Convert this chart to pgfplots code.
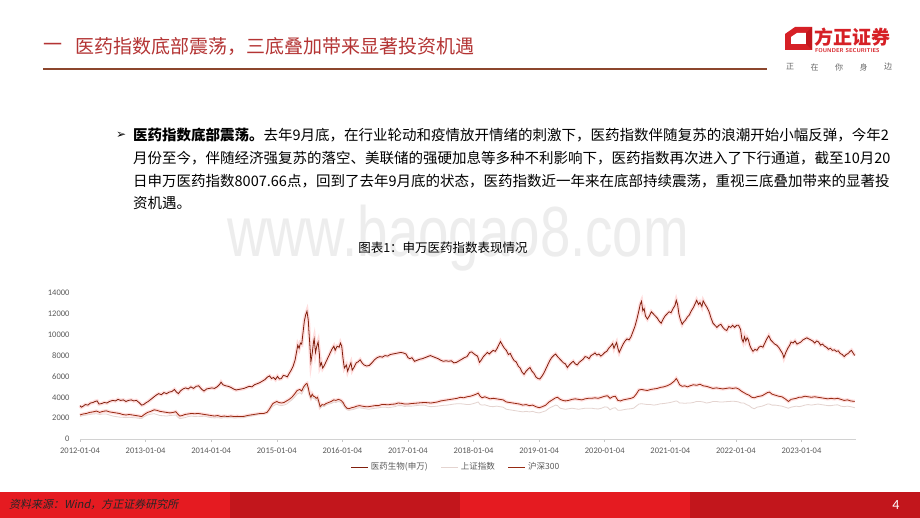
\documentclass[border=0pt]{standalone}
\usepackage{fontspec}
\usepackage{pgfplots}
\usepackage{pgfplotstable}
\pgfplotsset{compat=1.18}
\setmainfont{Carlito}
\newfontfamily\cjk{Noto Sans CJK SC}
\newfontfamily\cjksl[FakeSlant=0.2]{Noto Sans CJK SC}
\newfontfamily\dejavu{DejaVu Sans}
\newfontfamily\wmfont[FakeStretch=0.77]{Liberation Sans}

\definecolor{pharma}{RGB}{128,30,12}
\definecolor{csi}{RGB}{150,42,18}
\definecolor{sse}{RGB}{228,212,208}
\definecolor{titlered}{RGB}{180,52,52}
\definecolor{rulebrown}{RGB}{140,70,45}
\definecolor{barA}{RGB}{229,27,33}
\definecolor{barB}{RGB}{194,22,28}
\definecolor{logored}{RGB}{214,32,38}
\definecolor{ticktext}{RGB}{89,89,89}

% 医药生物(申万)
\pgfplotstableread{
t v
2012.00 3200
2012.02 3050
2012.05 3150
2012.08 3300
2012.12 3250
2012.16 3450
2012.20 3500
2012.23 3600
2012.26 3650
2012.29 3350
2012.33 3400
2012.37 3500
2012.41 3450
2012.45 3600
2012.50 3700
2012.54 3650
2012.58 3800
2012.62 3700
2012.66 3750
2012.70 3600
2012.74 3700
2012.78 3750
2012.82 3650
2012.86 3700
2012.90 3500
2012.94 3250
2012.97 3300
2013.00 3450
2013.04 3600
2013.08 3800
2013.12 4000
2013.16 4200
2013.20 4350
2013.24 4250
2013.28 4450
2013.32 4350
2013.36 4500
2013.40 4550
2013.44 4750
2013.47 4500
2013.50 4350
2013.53 4600
2013.57 4800
2013.61 4900
2013.65 4800
2013.69 5000
2013.73 4850
2013.77 5050
2013.81 5100
2013.85 4800
2013.89 4600
2013.93 4800
2013.97 4850
2014.01 4900
2014.05 4850
2014.09 5000
2014.13 5250
2014.15 5450
2014.18 5200
2014.22 5100
2014.26 5050
2014.30 4950
2014.34 4800
2014.38 4700
2014.42 4750
2014.46 4800
2014.50 4850
2014.54 4950
2014.58 5050
2014.62 5000
2014.66 5200
2014.70 5300
2014.74 5400
2014.78 5550
2014.82 5700
2014.86 5950
2014.89 6050
2014.92 5800
2014.95 5900
2014.98 5700
2015.01 6000
2015.04 5750
2015.07 5800
2015.10 6100
2015.13 6050
2015.16 5950
2015.19 6300
2015.22 6600
2015.25 7000
2015.28 7600
2015.30 8300
2015.32 9000
2015.34 8700
2015.36 9200
2015.38 9100
2015.40 10200
2015.42 11300
2015.44 11900
2015.46 12250
2015.48 11400
2015.49 10300
2015.50 9400
2015.52 7400
2015.54 8200
2015.56 9300
2015.57 9600
2015.59 8300
2015.61 8900
2015.63 9300
2015.65 8100
2015.66 7000
2015.68 7300
2015.70 6800
2015.72 7000
2015.75 7400
2015.78 7800
2015.81 8200
2015.84 8600
2015.87 8900
2015.89 8500
2015.92 8900
2015.95 8800
2015.97 9200
2015.99 8900
2016.01 7700
2016.03 6800
2016.06 7100
2016.08 6500
2016.11 7000
2016.13 7300
2016.15 6600
2016.18 6900
2016.21 7300
2016.24 7400
2016.27 7600
2016.30 7300
2016.33 7100
2016.37 7000
2016.41 7050
2016.45 7300
2016.49 7600
2016.53 7800
2016.57 7900
2016.61 7850
2016.65 8000
2016.69 7950
2016.73 8100
2016.77 8150
2016.81 8200
2016.85 8250
2016.89 8300
2016.93 8250
2016.97 8150
2017.00 7800
2017.03 7700
2017.06 7800
2017.10 7450
2017.14 7550
2017.18 7650
2017.22 7700
2017.26 7800
2017.30 7900
2017.34 8000
2017.38 7900
2017.42 7800
2017.46 7700
2017.50 7550
2017.54 7450
2017.58 7500
2017.62 7450
2017.66 7500
2017.70 7300
2017.74 7350
2017.78 7500
2017.82 7650
2017.86 7800
2017.90 7900
2017.94 8300
2017.97 8350
2018.00 8200
2018.03 8050
2018.06 7950
2018.09 7350
2018.12 7600
2018.15 7900
2018.18 8100
2018.21 8300
2018.24 8150
2018.27 8350
2018.30 8500
2018.33 8400
2018.36 8700
2018.39 9100
2018.41 9350
2018.44 9000
2018.47 8700
2018.50 8500
2018.53 8100
2018.56 8200
2018.59 7800
2018.62 7500
2018.65 7400
2018.68 7000
2018.71 6800
2018.74 6400
2018.77 6200
2018.80 6500
2018.83 6700
2018.86 6850
2018.89 6500
2018.92 6300
2018.95 5950
2018.98 5800
2019.01 5750
2019.04 6000
2019.07 6300
2019.10 6700
2019.13 7100
2019.16 7500
2019.19 7800
2019.22 8000
2019.25 8150
2019.28 7900
2019.31 7700
2019.34 7500
2019.37 7300
2019.40 7200
2019.43 6850
2019.46 7100
2019.49 7300
2019.52 7450
2019.55 7200
2019.58 7100
2019.61 7350
2019.64 7500
2019.67 7650
2019.70 7900
2019.73 7850
2019.76 7700
2019.79 8000
2019.82 8100
2019.85 8250
2019.88 8050
2019.91 8150
2019.94 7950
2019.97 8100
2020.00 8300
2020.03 8400
2020.06 8700
2020.09 8900
2020.12 9150
2020.14 8700
2020.16 9000
2020.18 9250
2020.20 8700
2020.22 8300
2020.25 8700
2020.28 9100
2020.31 9400
2020.34 9600
2020.37 9500
2020.40 9800
2020.43 10300
2020.46 10800
2020.49 11500
2020.52 12300
2020.54 12900
2020.56 13200
2020.58 12300
2020.60 12500
2020.62 11800
2020.65 11500
2020.68 11800
2020.71 12200
2020.74 12000
2020.77 11800
2020.80 11600
2020.83 11300
2020.86 11100
2020.89 11500
2020.92 11800
2020.95 12000
2020.98 12200
2021.01 12100
2021.04 12500
2021.07 12800
2021.09 13300
2021.11 12900
2021.13 12000
2021.15 11500
2021.18 11000
2021.20 11200
2021.23 11400
2021.26 11700
2021.29 11900
2021.32 12300
2021.35 12600
2021.38 13000
2021.40 13300
2021.43 12900
2021.45 13100
2021.48 12700
2021.50 13250
2021.53 12900
2021.56 12600
2021.59 12200
2021.62 11600
2021.65 11100
2021.68 10900
2021.71 10700
2021.74 10900
2021.77 11000
2021.80 10700
2021.83 10500
2021.86 10400
2021.89 10800
2021.92 10700
2021.95 10900
2021.98 10700
2022.01 10900
2022.04 10900
2022.07 10500
2022.09 9600
2022.11 9300
2022.13 9800
2022.15 9400
2022.17 9700
2022.19 9500
2022.21 9000
2022.23 8700
2022.26 8400
2022.29 8600
2022.32 8500
2022.35 8800
2022.38 8900
2022.41 8800
2022.44 9200
2022.47 9600
2022.50 9900
2022.53 9500
2022.56 9300
2022.59 9100
2022.62 9000
2022.65 8800
2022.68 8500
2022.71 8200
2022.73 7800
2022.76 8300
2022.79 8700
2022.82 9000
2022.84 9300
2022.87 9200
2022.90 9400
2022.93 9100
2022.96 9200
2022.99 9300
2023.02 9500
2023.05 9600
2023.08 9700
2023.11 9600
2023.14 9500
2023.17 9400
2023.20 9200
2023.23 9400
2023.26 9300
2023.29 9000
2023.32 9100
2023.35 8900
2023.38 8800
2023.41 8600
2023.44 8700
2023.47 8500
2023.50 8550
2023.53 8400
2023.56 8450
2023.59 8200
2023.62 8100
2023.65 7900
2023.68 8100
2023.71 8200
2023.74 8400
2023.76 8500
2023.79 8200
2023.81 8008
}\pharma

% 上证指数
\pgfplotstableread{
t v
2012.00 2170
2012.05 2250
2012.10 2300
2012.15 2350
2012.20 2400
2012.25 2420
2012.30 2350
2012.35 2400
2012.40 2400
2012.45 2300
2012.50 2200
2012.55 2150
2012.60 2100
2012.65 2080
2012.70 2050
2012.75 2080
2012.80 2050
2012.85 2030
2012.90 1980
2012.94 1960
2012.98 2150
2013.03 2300
2013.08 2380
2013.13 2430
2013.17 2350
2013.22 2250
2013.27 2230
2013.32 2200
2013.37 2250
2013.42 2280
2013.46 2300
2013.49 2100
2013.52 1950
2013.56 2000
2013.60 2050
2013.65 2150
2013.70 2200
2013.75 2150
2013.80 2180
2013.85 2150
2013.90 2200
2013.95 2100
2014.00 2050
2014.05 2020
2014.10 2050
2014.15 2000
2014.20 2050
2014.25 2030
2014.30 2050
2014.35 2020
2014.40 2030
2014.45 2040
2014.50 2050
2014.55 2150
2014.60 2200
2014.65 2250
2014.70 2350
2014.75 2380
2014.80 2450
2014.85 2550
2014.88 2750
2014.91 2950
2014.94 3150
2014.97 3250
2015.00 3350
2015.03 3250
2015.07 3200
2015.11 3250
2015.15 3350
2015.19 3550
2015.23 3750
2015.27 4000
2015.31 4300
2015.35 4450
2015.38 4300
2015.41 4700
2015.44 5000
2015.46 5150
2015.48 4700
2015.50 4100
2015.52 3800
2015.54 4000
2015.56 3900
2015.58 3850
2015.60 3700
2015.62 3750
2015.64 3400
2015.66 2950
2015.69 3150
2015.72 3100
2015.75 3250
2015.79 3350
2015.83 3400
2015.87 3550
2015.90 3500
2015.94 3600
2015.98 3500
2016.01 3300
2016.04 3000
2016.07 2800
2016.10 2750
2016.14 2800
2016.18 2850
2016.22 2950
2016.26 3000
2016.30 2950
2016.35 2900
2016.40 2850
2016.45 2900
2016.50 2950
2016.55 2980
2016.60 3050
2016.65 3050
2016.70 3000
2016.75 3050
2016.80 3100
2016.85 3200
2016.90 3200
2016.95 3120
2017.00 3150
2017.05 3150
2017.10 3180
2017.15 3220
2017.20 3250
2017.25 3250
2017.30 3150
2017.35 3100
2017.40 3120
2017.45 3150
2017.50 3200
2017.55 3230
2017.60 3250
2017.65 3300
2017.70 3350
2017.75 3380
2017.80 3380
2017.85 3350
2017.90 3300
2017.95 3320
2018.00 3400
2018.04 3480
2018.07 3550
2018.10 3300
2018.13 3250
2018.17 3280
2018.21 3200
2018.25 3120
2018.30 3100
2018.35 3150
2018.40 3100
2018.45 3050
2018.50 2850
2018.55 2800
2018.60 2750
2018.65 2700
2018.70 2650
2018.75 2600
2018.80 2650
2018.85 2600
2018.90 2650
2018.95 2550
2019.00 2500
2019.05 2600
2019.10 2700
2019.15 2950
2019.20 3100
2019.25 3250
2019.28 3200
2019.32 2950
2019.36 2900
2019.40 2850
2019.45 2900
2019.50 2950
2019.55 2900
2019.60 2850
2019.65 2900
2019.70 2950
2019.75 2950
2019.80 2950
2019.85 2900
2019.90 2880
2019.95 2950
2020.00 3080
2020.04 3050
2020.08 2800
2020.12 2950
2020.16 3000
2020.20 2750
2020.24 2750
2020.28 2800
2020.32 2850
2020.36 2880
2020.40 2900
2020.44 2950
2020.48 3150
2020.52 3350
2020.56 3380
2020.60 3350
2020.65 3300
2020.70 3300
2020.75 3250
2020.80 3300
2020.85 3380
2020.90 3400
2020.95 3450
2021.00 3500
2021.03 3550
2021.06 3600
2021.09 3650
2021.11 3600
2021.14 3450
2021.18 3450
2021.22 3420
2021.26 3450
2021.30 3450
2021.35 3500
2021.40 3600
2021.45 3600
2021.50 3550
2021.55 3450
2021.60 3500
2021.65 3600
2021.70 3600
2021.75 3550
2021.80 3550
2021.85 3580
2021.90 3600
2021.95 3620
2022.00 3600
2022.04 3550
2022.08 3450
2022.12 3450
2022.16 3300
2022.20 3200
2022.24 3000
2022.28 2900
2022.32 3050
2022.36 3100
2022.40 3150
2022.44 3250
2022.48 3350
2022.51 3350
2022.55 3250
2022.60 3250
2022.65 3200
2022.70 3150
2022.75 3050
2022.80 2950
2022.84 3050
2022.88 3100
2022.92 3150
2022.96 3100
2023.00 3150
2023.05 3250
2023.10 3300
2023.15 3250
2023.20 3300
2023.25 3350
2023.30 3300
2023.35 3250
2023.40 3200
2023.45 3200
2023.50 3250
2023.55 3280
2023.60 3150
2023.65 3100
2023.70 3150
2023.75 3100
2023.81 3000
}\sse

% 沪深300
\pgfplotstableread{
t v
2012.00 2310
2012.05 2400
2012.10 2450
2012.15 2550
2012.20 2600
2012.25 2680
2012.30 2550
2012.35 2650
2012.40 2700
2012.45 2600
2012.50 2550
2012.55 2500
2012.60 2450
2012.65 2350
2012.70 2300
2012.75 2350
2012.80 2300
2012.85 2250
2012.90 2200
2012.94 2150
2012.98 2350
2013.03 2550
2013.08 2650
2013.13 2800
2013.17 2750
2013.22 2650
2013.27 2600
2013.32 2550
2013.37 2500
2013.42 2550
2013.46 2620
2013.49 2400
2013.52 2200
2013.56 2250
2013.60 2350
2013.65 2400
2013.70 2450
2013.75 2420
2013.80 2450
2013.85 2400
2013.90 2350
2013.95 2300
2014.00 2250
2014.05 2200
2014.10 2250
2014.15 2150
2014.20 2200
2014.25 2150
2014.30 2200
2014.35 2150
2014.40 2170
2014.45 2150
2014.50 2170
2014.55 2250
2014.60 2300
2014.65 2350
2014.70 2400
2014.75 2450
2014.80 2450
2014.85 2550
2014.88 2800
2014.91 3100
2014.94 3400
2014.97 3500
2015.00 3600
2015.03 3500
2015.07 3450
2015.11 3500
2015.15 3650
2015.19 3800
2015.23 4000
2015.27 4300
2015.31 4650
2015.35 4750
2015.38 4600
2015.41 5000
2015.44 5250
2015.46 5330
2015.48 4900
2015.50 4300
2015.52 4000
2015.54 4300
2015.56 4100
2015.58 4050
2015.60 3900
2015.62 4000
2015.64 3600
2015.66 3100
2015.69 3300
2015.72 3250
2015.75 3400
2015.79 3500
2015.83 3600
2015.87 3750
2015.90 3700
2015.94 3800
2015.98 3700
2016.01 3500
2016.04 3150
2016.07 2950
2016.10 2900
2016.14 3000
2016.18 3050
2016.22 3150
2016.26 3200
2016.30 3150
2016.35 3100
2016.40 3100
2016.45 3150
2016.50 3200
2016.55 3200
2016.60 3300
2016.65 3300
2016.70 3280
2016.75 3330
2016.80 3350
2016.85 3450
2016.90 3420
2016.95 3350
2017.00 3350
2017.05 3400
2017.10 3420
2017.15 3450
2017.20 3480
2017.25 3500
2017.30 3480
2017.35 3450
2017.40 3500
2017.45 3550
2017.50 3650
2017.55 3700
2017.60 3750
2017.65 3800
2017.70 3850
2017.75 3900
2017.80 4000
2017.85 3950
2017.90 4050
2017.95 4100
2018.00 4200
2018.04 4300
2018.07 4400
2018.10 4100
2018.13 3950
2018.17 4050
2018.21 3950
2018.25 3850
2018.30 3900
2018.35 3850
2018.40 3800
2018.45 3750
2018.50 3550
2018.55 3500
2018.60 3450
2018.65 3400
2018.70 3350
2018.75 3250
2018.80 3300
2018.85 3200
2018.90 3250
2018.95 3100
2019.00 3000
2019.05 3100
2019.10 3250
2019.15 3550
2019.20 3750
2019.25 3950
2019.28 4000
2019.32 3800
2019.36 3700
2019.40 3650
2019.45 3700
2019.50 3800
2019.55 3850
2019.60 3800
2019.65 3750
2019.70 3850
2019.75 3900
2019.80 3900
2019.85 3950
2019.90 3900
2019.95 4000
2020.00 4100
2020.04 4150
2020.08 3900
2020.12 4050
2020.16 4100
2020.20 3700
2020.24 3650
2020.28 3750
2020.32 3800
2020.36 3850
2020.40 3900
2020.44 4000
2020.48 4300
2020.52 4700
2020.56 4750
2020.60 4700
2020.65 4650
2020.70 4750
2020.75 4800
2020.80 4850
2020.85 4950
2020.90 5000
2020.95 5100
2021.00 5250
2021.03 5400
2021.06 5550
2021.09 5800
2021.11 5600
2021.14 5200
2021.18 5050
2021.22 5100
2021.26 5000
2021.30 5100
2021.35 5200
2021.40 5150
2021.45 5250
2021.50 5100
2021.55 5050
2021.60 4950
2021.65 4850
2021.70 4900
2021.75 4850
2021.80 4800
2021.85 4850
2021.90 4900
2021.95 4850
2022.00 4900
2022.04 4800
2022.08 4600
2022.12 4450
2022.16 4300
2022.20 4200
2022.24 4000
2022.28 3950
2022.32 4050
2022.36 4100
2022.40 4150
2022.44 4300
2022.48 4450
2022.51 4500
2022.55 4300
2022.60 4200
2022.65 4100
2022.70 4050
2022.75 3850
2022.80 3600
2022.84 3800
2022.88 3850
2022.92 3900
2022.96 4000
2023.00 4000
2023.05 4100
2023.10 4050
2023.15 4000
2023.20 4050
2023.25 4000
2023.30 3950
2023.35 3900
2023.40 3850
2023.45 3900
2023.50 3850
2023.55 3900
2023.60 3800
2023.65 3700
2023.70 3750
2023.75 3650
2023.81 3600
}\csi

\begin{document}
\begin{tikzpicture}[x=1pt,y=1pt]
\path[use as bounding box] (0,0) rectangle (920,518);
\fill[white] (0,0) rectangle (920,518);

% header
\node[anchor=west,inner sep=0pt,text=titlered,font=\cjk\fontsize{19}{21}\selectfont] at (43,471) {一};
\node[anchor=west,inner sep=0pt,text=titlered,font=\cjk\fontsize{19}{21}\selectfont] at (75,471) {医药指数底部震荡，三底叠加带来显著投资机遇};
\draw[rulebrown,line width=2.5pt] (43,449) -- (767,449);

% logo
\fill[logored] (785,484) -- (795,491) -- (812,491) -- (812,468) -- (785,468) -- cycle;
\fill[white] (791,481) -- (797,485) -- (806,485) -- (806,474) -- (791,474) -- cycle;
\fill[barB] (806,485) -- (812,491) -- (812,468) -- (806,474) -- cycle;
\node[anchor=west,inner sep=0pt,text=logored,font=\cjk\bfseries\fontsize{19}{21}\selectfont] at (814,481) {方正证券};
\node[anchor=west,inner sep=0pt,text=logored,font=\sffamily\bfseries\fontsize{5.6}{6}\selectfont] at (815,467) {FOUNDER SECURITIES};
\foreach \ch [count=\i from 0] in {正,在,你,身,边}
  \node[inner sep=0pt,text=gray!80!black,font=\cjk\fontsize{8}{9}\selectfont] at (790+\i*24.5,451) {\ch};

% body text
\node[anchor=west,inner sep=0pt,font=\dejavu\fontsize{12}{14}\selectfont] at (116,383) {➢};
\begin{scope}[every node/.style={anchor=west,inner sep=0pt,font=\cjk\fontsize{14.5}{17}\selectfont}]
\node at (133,383) {\textbf{医药指数底部震荡。}去年9月底，在行业轮动和疫情放开情绪的刺激下，医药指数伴随复苏的浪潮开始小幅反弹，今年2};
\node at (133,360) {月份至今，伴随经济强复苏的落空、美联储的强硬加息等多种不利影响下，医药指数再次进入了下行通道，截至10月20};
\node at (133,337) {日申万医药指数8007.66点，回到了去年9月底的状态，医药指数近一年来在底部持续震荡，重视三底叠加带来的显著投};
\node at (133,315) {资机遇。};
\end{scope}

% watermark and caption
\node[anchor=base,inner sep=0pt,text=gray!14,font=\wmfont\fontsize{71}{75}\selectfont] at (458,261) {www.baogao8.com};
\node[inner sep=0pt,font=\cjk\fontsize{12.5}{14}\selectfont] at (443,270) {图表1：申万医药指数表现情况};

% chart
\begin{axis}[
    at={(80pt,79pt)}, anchor=south west,
    scale only axis, width=776pt, height=146pt,
    xmin=2012, xmax=2023.83, ymin=0, ymax=14000,
    axis x line*=bottom, axis y line*=left,
    x axis line style={draw=gray!35,line width=0.8pt,-},
    y axis line style={draw=none},
    xtick={2012,...,2023},
    xticklabels={2012-01-04,2013-01-04,2014-01-04,2015-01-04,2016-01-04,2017-01-04,2018-01-04,2019-01-04,2020-01-04,2021-01-04,2022-01-04,2023-01-04},
    ytick={0,2000,...,14000},
    xtick style={draw=gray!45,line width=0.5pt},
    ytick style={draw=none},
    tick align=outside, major tick length=3pt,
    scaled y ticks=false,
    /pgf/number format/fixed,
    /pgf/number format/1000 sep={},
    /pgf/number format/assume math mode=true,
    yticklabel style={font=\fontsize{8.5}{10}\selectfont,text=ticktext,xshift=-4pt},
    xticklabel style={font=\fontsize{8.5}{10}\selectfont,text=ticktext,yshift=-2pt},
    clip=false,
    legend columns=3,
    legend style={at={(0.4845,-0.193)},anchor=center,draw=none,fill=none,
      font=\cjk\fontsize{8.5}{10}\selectfont,text=ticktext,
      /tikz/every even column/.append style={column sep=11pt},inner sep=1pt},
    legend image code/.code={\draw[#1,line width=1.2pt] (0pt,0pt) -- (17pt,0pt);},
]
\addplot[red,opacity=0.13,line width=3.6pt,forget plot] table[x=t,y=v] {\pharma};
\addplot[red,opacity=0.13,line width=3.4pt,forget plot] table[x=t,y=v] {\csi};
\addplot[pharma,line width=0.8pt] table[x=t,y=v] {\pharma};
\addplot[sse,line width=0.8pt] table[x=t,y=v] {\sse};
\addplot[csi,line width=0.8pt] table[x=t,y=v] {\csi};
\legend{医药生物(申万),上证指数,沪深300}
\end{axis}

% footer
\fill[barA] (0,0) rectangle (230,26);
\fill[barB] (230,0) rectangle (460,26);
\fill[barA] (460,0) rectangle (690,26);
\fill[barB] (690,0) rectangle (920,26);
\node[anchor=west,inner sep=0pt,text=black!85,font=\cjksl\fontsize{11}{12}\selectfont] at (9,14) {资料来源：Wind，方正证券研究所};
\node[inner sep=0pt,text=white,font=\fontsize{14}{16}\selectfont] at (896,13) {4};
\end{tikzpicture}
\end{document}
